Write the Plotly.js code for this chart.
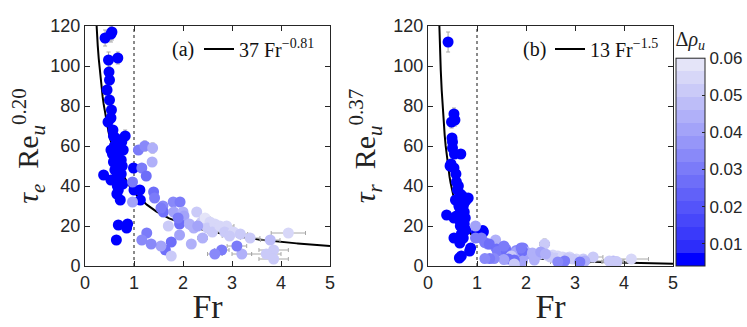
<!DOCTYPE html>
<html>
<head>
<meta charset="utf-8">
<script src="https://cdn.plot.ly/plotly-3.0.1.min.js"></script>
<style>
  html, body { margin: 0; padding: 0; background: #fff; }
  #chart { width: 747px; height: 327px; }
</style>
</head>
<body>
<div id="chart"></div>
<script>
// Froude number of each run (shared by both panels)
const fr = [
  0.41, 0.53, 0.55, 0.48, 0.67, 0.49, 0.50, 0.45, 0.50, 0.54,
  0.53, 0.47, 0.57, 0.58, 0.82, 0.62, 0.70, 0.75, 0.60, 0.66,
  0.72, 0.78, 0.56, 0.63, 0.68, 0.74, 0.58, 0.65, 0.70, 0.76,
  0.61, 0.69, 0.74, 0.38, 0.64, 0.53, 0.72, 0.77, 0.66, 0.99,
  1.00, 1.12, 1.13, 0.72, 0.65, 0.68, 0.87, 0.85, 0.68, 0.64,
  0.53, 1.09, 1.22, 1.38, 1.37, 1.16, 1.25, 0.97, 1.40, 1.42,
  0.97, 1.59, 1.60, 1.80, 1.94, 1.81, 2.00, 2.02, 1.93, 1.70,
  2.13, 2.28, 2.22, 2.38, 2.45, 2.55, 2.50, 2.65, 2.60, 2.75,
  2.89, 2.85, 3.03, 2.95, 3.17, 3.37, 3.78, 4.15, 3.85, 3.70,
  3.85, 3.20, 3.10, 2.79, 2.65, 1.93, 1.76, 1.64, 1.76, 1.55,
  1.35, 1.26, 1.16, 2.17, 2.30, 2.40, 1.90, 1.55
];

// density difference (colour)
const drho = [
  0.005, 0.005, 0.005, 0.005, 0.005, 0.005, 0.005, 0.005, 0.005, 0.005,
  0.005, 0.005, 0.005, 0.005, 0.005, 0.005, 0.005, 0.005, 0.005, 0.005,
  0.005, 0.005, 0.005, 0.005, 0.005, 0.005, 0.005, 0.005, 0.005, 0.005,
  0.005, 0.005, 0.005, 0.005, 0.005, 0.005, 0.005, 0.005, 0.005, 0.005,
  0.005, 0.005, 0.005, 0.005, 0.005, 0.005, 0.005, 0.005, 0.005, 0.005,
  0.005, 0.030, 0.035, 0.045, 0.045, 0.030, 0.025, 0.030, 0.025, 0.030,
  0.040, 0.035, 0.025, 0.035, 0.030, 0.040, 0.045, 0.040, 0.025, 0.050,
  0.045, 0.050, 0.045, 0.050, 0.058, 0.055, 0.052, 0.055, 0.050, 0.055,
  0.055, 0.052, 0.055, 0.050, 0.052, 0.050, 0.048, 0.055, 0.052, 0.050,
  0.050, 0.045, 0.030, 0.030, 0.035, 0.040, 0.025, 0.025, 0.050, 0.040,
  0.035, 0.030, 0.035, 0.045, 0.040, 0.045, 0.030, 0.030
];

// panel (a): tau_e Re_u^0.20
const tauE = [
  114, 116, 117, 103, 104, 97, 93, 88, 83, 78,
  74, 72, 68, 65, 65, 64, 63, 62, 60, 59,
  58, 58, 56, 55, 54, 53, 52, 51, 50, 50,
  48, 47, 46, 45.5, 44, 43, 42, 41, 40, 49,
  38, 38, 33, 33, 36, 38, 21, 19, 20.5, 13,
  58, 58, 60, 59, 52, 49, 45, 42, 37, 34,
  32, 30, 27, 32, 32, 27, 27, 25, 21, 20,
  21, 27, 19, 22, 24, 22, 19, 21, 17, 20,
  20, 17, 17, 15, 16, 14, 13, 16.5, 8, 6,
  3.5, 6, 10, 8, 6, 15.5, 12, 8, 5, 10,
  11, 16.5, 13, 11, 20, 14, 24, 29
];

// panel (b): tau_r Re_u^0.37
const tauR = [
  112, 76, 73, 72, 56, 64, 62, 50, 59, 56,
  49, 51, 46, 42, 34, 40, 35, 32, 38, 36,
  30, 33, 33, 30, 28, 27, 25, 29, 26, 24,
  24, 22, 21, 25.5, 23, 24, 19, 18, 20, 17,
  16, 17.7, 17, 14, 11.5, 16, 9, 7.5, 5, 4,
  14, 14, 11, 13, 9.6, 11.7, 11, 14, 8.5, 7.3,
  20, 8.5, 7.3, 7.8, 9, 7, 7, 6, 7.5, 5,
  6.5, 6, 5.5, 11, 5, 5.5, 4.5, 5, 4, 4.5,
  4.5, 4, 3.5, 3.5, 3.5, 4.5, 2.5, 3.5, 2.2, 2.5,
  2, 2.5, 2, 2.5, 2, 2.5, 3, 3.5, 1, 3.2,
  3.7, 3.7, 3.7, 3, 7, 6, 9, 10
];

// error bars
const frErr = [
  0.03, 0.03, 0.03, 0.03, 0.06, 0.03, 0.03, 0.03, 0.03, 0.03,
  0.03, 0.03, 0.03, 0.03, 0.06, 0.03, 0.03, 0.03, 0.03, 0.03,
  0.03, 0.03, 0.03, 0.03, 0.03, 0.03, 0.03, 0.03, 0.03, 0.03,
  0.03, 0.03, 0.03, 0.03, 0.03, 0.03, 0.03, 0.03, 0.03, 0.03,
  0.03, 0.03, 0.03, 0.03, 0.03, 0.03, 0.04, 0.04, 0.06, 0.06,
  0.03, 0.05, 0.05, 0.05, 0.05, 0.04, 0.04, 0.03, 0.04, 0.04,
  0.03, 0.05, 0.05, 0.06, 0.07, 0.06, 0.08, 0.08, 0.06, 0.06,
  0.08, 0.08, 0.10, 0.10, 0.10, 0.10, 0.10, 0.10, 0.10, 0.12,
  0.15, 0.15, 0.15, 0.15, 0.15, 0.20, 0.20, 0.35, 0.30, 0.30,
  0.30, 0.20, 0.20, 0.15, 0.15, 0.06, 0.05, 0.05, 0.05, 0.05,
  0.05, 0.04, 0.04, 0.08, 0.08, 0.10, 0.06, 0.05
];
const tauEErr = [
  4, 4, 4, 4, 3, 3, 3, 2.5, 2.5, 2.5,
  2.5, 2, 2, 2, 3, 2, 2, 2, 2, 2,
  2, 2, 2, 2, 2, 2, 2, 2, 2, 2,
  2, 2, 2, 2, 2, 2, 2, 2, 2, 2,
  2, 2, 2, 2, 2, 2, 2, 2, 2, 2,
  2, 2, 2.5, 2.5, 2, 2, 2, 2, 2, 2,
  2, 2, 2, 2, 2, 2, 2, 2, 2, 2,
  2, 2, 2, 2, 2, 2, 2, 2, 2, 2,
  2, 2, 2, 2, 2, 2, 2, 2, 1.5, 1.5,
  1.5, 1.5, 1.5, 1.5, 1.5, 2, 2, 1.5, 1.5, 1.5,
  1.5, 2, 1.5, 1.5, 2, 1.5, 2, 2
];
const tauRErr = [
  5, 3, 3, 3, 2, 2, 2, 2, 2, 2,
  2, 2, 2, 2, 2, 2, 2, 2, 2, 2,
  1.5, 1.5, 1.5, 1.5, 1.5, 1.5, 1.5, 1.5, 1.5, 1.5,
  1.5, 1.5, 1.5, 1.5, 1.5, 1.5, 1.5, 1.5, 1.5, 1.5,
  1.5, 1.5, 1.5, 1.5, 1.5, 1.5, 1.5, 1.5, 1.5, 1.5,
  1.5, 1.5, 1.5, 1.5, 1.5, 1.5, 1.5, 1.5, 1.5, 1.5,
  1.5, 1.5, 1.5, 1.5, 1.5, 1.5, 1.5, 1.5, 1.5, 1.5,
  1.5, 1.5, 1.5, 2.5, 1.5, 1.5, 1.5, 1.5, 1.5, 1.5,
  1.5, 1.5, 1.5, 1.5, 1.5, 1.5, 1.5, 1.5, 1, 1,
  1, 1, 1, 1, 1, 1, 1, 1, 1, 1,
  1, 1, 1, 1, 1.5, 1.5, 1.5, 1.5
];

// fitted power laws: coef * Fr^expo
const fitA = { coef: 37, expo: -0.81, label: '37 Fr<sup>\u22120.81</sup>' };
const fitB = { coef: 13, expo: -1.5, label: '13 Fr<sup>\u22121.5</sup>' };

const colorTicks = [0.01, 0.02, 0.03, 0.04, 0.05, 0.06];

// stepped blue->white colormap like MATLAB's
function steppedScale(n) {
  const cols = [];
  for (let i = 0; i < n; i++) {
    if (i === 0) { cols.push('rgb(0,0,255)'); continue; }
    const t = (i - 1) / (n - 2);
    const v = Math.round(45 + t * (228 - 45));
    const b = Math.round(250 - t * 2);
    cols.push(`rgb(${v},${v},${b})`);
  }
  const scale = [];
  for (let i = 0; i < n; i++) {
    scale.push([i / n, cols[i]]);
    scale.push([(i + 1) / n, cols[i]]);
  }
  return scale;
}

function fitCurve(fit) {
  const x = [];
  const y = [];
  for (let v = 0.2; v <= 5.0001; v += 0.02) {
    x.push(v);
    y.push(fit.coef * Math.pow(v, fit.expo));
  }
  return { x, y };
}

const serif = 'Liberation Serif, Times New Roman, serif';
const sans = 'Liberation Sans, Arial, sans-serif';
const axisColor = '#262626';

const cA = fitCurve(fitA);
const cB = fitCurve(fitB);

const errStyle = { color: '#a8a8a8', thickness: 1, width: 2 };

const data = [
  {
    x: cA.x, y: cA.y, mode: 'lines', type: 'scatter',
    line: { color: '#000', width: 2 },
    name: fitA.label, legend: 'legend', showlegend: true,
    xaxis: 'x', yaxis: 'y', hoverinfo: 'skip'
  },
  {
    x: cB.x, y: cB.y, mode: 'lines', type: 'scatter',
    line: { color: '#000', width: 2 },
    name: fitB.label, legend: 'legend2', showlegend: true,
    xaxis: 'x2', yaxis: 'y2', hoverinfo: 'skip'
  },
  {
    x: fr, y: tauE, mode: 'markers', type: 'scatter',
    marker: { color: drho, coloraxis: 'coloraxis', size: 11, line: { width: 0 } },
    error_x: Object.assign({ type: 'data', array: frErr }, errStyle),
    error_y: Object.assign({ type: 'data', array: tauEErr }, errStyle),
    showlegend: false, xaxis: 'x', yaxis: 'y'
  },
  {
    x: fr, y: tauR, mode: 'markers', type: 'scatter',
    marker: { color: drho, coloraxis: 'coloraxis', size: 11, line: { width: 0 } },
    error_x: Object.assign({ type: 'data', array: frErr }, errStyle),
    error_y: Object.assign({ type: 'data', array: tauRErr }, errStyle),
    showlegend: false, xaxis: 'x2', yaxis: 'y2'
  }
];

const W = 747, H = 327;
const px = v => v / W;
const py = v => 1 - v / H;

function xAxis(domain) {
  return {
    domain: domain, range: [0, 5], dtick: 1, ticks: 'inside', ticklen: 5,
    tickcolor: axisColor, showline: true, linecolor: axisColor, linewidth: 1,
    mirror: 'ticks', showgrid: false, zeroline: false,
    tickfont: { family: sans, size: 18, color: axisColor },
    title: { text: 'Fr', font: { family: serif, size: 34, color: '#222' }, standoff: 2 }
  };
}
function yAxis(anchor, title, standoff) {
  return {
    domain: [py(266), py(26)], range: [0, 120], dtick: 20, anchor: anchor,
    ticks: 'inside', ticklen: 5, tickcolor: axisColor, showline: true,
    linecolor: axisColor, linewidth: 1, mirror: 'ticks', showgrid: false,
    zeroline: false, tickfont: { family: sans, size: 18, color: axisColor },
    title: { text: title, font: { family: serif, size: 30, color: '#222' }, standoff: standoff }
  };
}

const legendFont = { family: serif, size: 20, color: '#111' };

const layout = {
  width: W, height: H,
  margin: { l: 0, r: 0, t: 0, b: 0 },
  paper_bgcolor: '#fff', plot_bgcolor: '#fff',
  xaxis: Object.assign(xAxis([px(85), px(330)]), { anchor: 'y' }),
  yaxis: yAxis('x', '<i>\u03C4</i><sub><i>e</i></sub>  Re<sub><i>u</i></sub><sup>0.20</sup>', 2),
  xaxis2: Object.assign(xAxis([px(428), px(673)]), { anchor: 'y2' }),
  yaxis2: yAxis('x2', '<i>\u03C4</i><sub><i>r</i></sub>  Re<sub><i>u</i></sub><sup>0.37</sup>', 8),
  coloraxis: {
    cmin: 0.004, cmax: 0.06,
    colorscale: steppedScale(16),
    colorbar: {
      x: px(676), xanchor: 'left', y: py(266), yanchor: 'bottom',
      len: (266 - 28) / H, lenmode: 'fraction', thickness: 29, thicknessmode: 'pixels',
      outlinewidth: 1, outlinecolor: axisColor, xpad: 0, ypad: 0,
      tickvals: colorTicks, ticktext: colorTicks.map(v => v.toFixed(2)),
      ticks: 'inside', ticklen: 3, tickcolor: axisColor,
      tickfont: { family: sans, size: 17, color: axisColor },
      title: { text: '\u0394<i>\u03C1</i><sub><i>u</i></sub>', side: 'top',
               font: { family: serif, size: 20, color: '#222' } }
    }
  },
  legend: {
    x: px(199), y: py(49), xanchor: 'left', yanchor: 'middle',
    bgcolor: 'rgba(0,0,0,0)', borderwidth: 0, itemwidth: 30, font: legendFont
  },
  legend2: {
    x: px(550), y: py(49), xanchor: 'left', yanchor: 'middle',
    bgcolor: 'rgba(0,0,0,0)', borderwidth: 0, itemwidth: 30, font: legendFont
  },
  shapes: [
    { type: 'line', xref: 'x', yref: 'paper', x0: 1, x1: 1, y0: py(266), y1: py(26),
      line: { color: '#8a8a8a', width: 2, dash: 'dot' }, layer: 'below' },
    { type: 'line', xref: 'x2', yref: 'paper', x0: 1, x1: 1, y0: py(266), y1: py(26),
      line: { color: '#8a8a8a', width: 2, dash: 'dot' }, layer: 'below' }
  ],
  annotations: [
    { text: '(a)', xref: 'paper', yref: 'paper', x: px(183), y: py(49),
      xanchor: 'center', yanchor: 'middle', showarrow: false, font: legendFont },
    { text: '(b)', xref: 'paper', yref: 'paper', x: px(534), y: py(49),
      xanchor: 'center', yanchor: 'middle', showarrow: false, font: legendFont }
  ]
};

Plotly.newPlot('chart', data, layout, { displayModeBar: false, staticPlot: true });
</script>
</body>
</html>
